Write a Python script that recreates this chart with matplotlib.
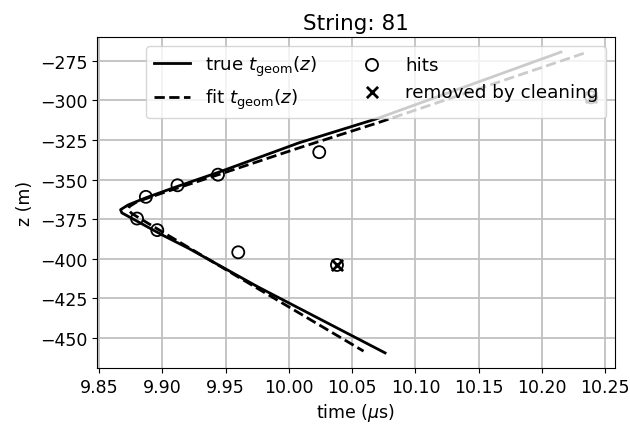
import matplotlib
matplotlib.use("Agg")
import matplotlib.pyplot as plt

# true t_geom(z) curve
true_t = [10.215, 10.069, 10.008, 9.944, 9.912, 9.887, 9.873, 9.867, 9.868, 9.876, 9.900, 9.921, 9.975, 10.076]
true_z = [-269.5, -311.7, -326.8, -345.5, -354.3, -361.5, -366.0, -369.0, -371.0, -374.5, -385.0, -393.5, -417.5, -459.4]

# fitted t_geom(z) curve
fit_t = [10.233, 10.069, 10.008, 9.944, 9.900, 9.880, 9.874, 9.873, 9.876, 9.900, 9.960, 10.059]
fit_z = [-270.3, -314.5, -330.0, -347.0, -358.5, -364.0, -367.0, -369.0, -371.5, -383.0, -411.5, -458.3]

# hits
hit_t = [9.880, 9.887, 9.896, 9.912, 9.944, 9.960, 10.024, 10.038, 10.239]
hit_z = [-374.6, -360.9, -381.9, -353.6, -346.9, -395.9, -332.7, -403.9, -298.1]

# hits removed by cleaning
rem_t = [10.038, 10.239]
rem_z = [-403.9, -298.1]

plt.rcParams["font.size"] = 12.5

fig, ax = plt.subplots(figsize=(6.3, 4.27), dpi=100)
ax.plot(true_t, true_z, color="k", lw=2.0, label=r"true $t_{\rm geom}(z)$")
ax.plot(fit_t, fit_z, color="k", lw=2.0, ls="--", label=r"fit $t_{\rm geom}(z)$")
ax.scatter(hit_t, hit_z, s=75, facecolors="none", edgecolors="k", lw=1.3, label="hits")
ax.scatter(rem_t, rem_z, s=65, marker="x", color="k", lw=2.0, label="removed by cleaning")

ax.set_title("String: 81", fontsize=15.5)
ax.set_xlabel(r"time ($\mu$s)")
ax.set_ylabel("z (m)")
ax.grid(True, color="#c0c0c0", lw=1.3)
ax.set_axisbelow(True)
ax.legend(loc="upper right", ncol=2, fontsize=13.2)

fig.subplots_adjust(left=0.154, right=0.976, top=0.911, bottom=0.136)
fig.savefig("out.png", dpi=100)
